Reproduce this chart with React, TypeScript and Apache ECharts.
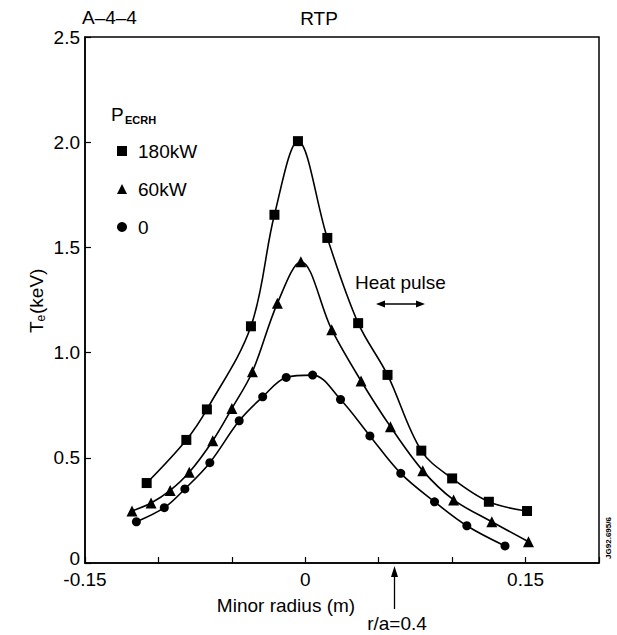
import React, { useEffect, useRef } from "react";
import * as echarts from "echarts";

// Minor radius (m) and Te (keV) for each ECRH power
const radius180 = [-0.108, -0.081, -0.067, -0.037, -0.021, -0.005, 0.015, 0.036, 0.056, 0.079, 0.1, 0.125, 0.151];
const te180 = [0.38, 0.585, 0.73, 1.125, 1.655, 2.005, 1.545, 1.14, 0.894, 0.534, 0.402, 0.291, 0.247];

const radius60 = [-0.118, -0.105, -0.092, -0.079, -0.063, -0.05, -0.036, -0.019, -0.003, 0.018, 0.038, 0.058, 0.08, 0.101, 0.127, 0.152];
const te60 = [0.247, 0.285, 0.345, 0.431, 0.581, 0.734, 0.909, 1.234, 1.432, 1.109, 0.865, 0.648, 0.439, 0.3, 0.196, 0.101];

const radius0 = [-0.115, -0.096, -0.082, -0.065, -0.045, -0.029, -0.013, 0.005, 0.024, 0.044, 0.065, 0.088, 0.11, 0.136];
const te0 = [0.196, 0.263, 0.352, 0.477, 0.676, 0.79, 0.882, 0.893, 0.777, 0.604, 0.426, 0.291, 0.177, 0.081];

const seriesNames = ["180kW", "60kW", "0"];
const seriesSymbols = ["rect", "triangle", "circle"];
const xLabelValues = [-0.15, 0, 0.15];
const xLabelTexts = ["-0.15", "0", "0.15"];
const yLabelValues = [0, 0.5, 1.0, 1.5, 2.0, 2.5];
const yLabelTexts = ["0", "0.5", "1.0", "1.5", "2.0", "2.5"];

const zip = (xs: number[], ys: number[]) => xs.map((x, i) => [x, ys[i]]);

const FONT = "'Liberation Sans', Arial, Helvetica, sans-serif";
const FS = 19;

export default function App() {
  const ref = useRef<HTMLDivElement>(null);
  useEffect(() => {
    if (!ref.current) return;
    const chart = echarts.init(ref.current, null, { renderer: "svg" });
    const datasets = [zip(radius180, te180), zip(radius60, te60), zip(radius0, te0)];
    const sizes = [10, 11, 9];
    const option: any = {
      animation: false,
      backgroundColor: "#fff",
      textStyle: { fontFamily: FONT, color: "#000" },
      grid: {
        left: 85,
        right: 18,
        top: 37,
        bottom: 72,
        show: true,
        borderColor: "#000",
        borderWidth: 1.5,
        backgroundColor: "transparent",
      },
      legend: {
        orient: "vertical",
        left: 117,
        top: 141,
        padding: 0,
        itemWidth: 10,
        itemHeight: 10,
        itemGap: 18,
        selectedMode: false,
        textStyle: { fontFamily: FONT, fontSize: FS, color: "#000", lineHeight: 20, padding: [0, 0, 0, 6] },
        data: seriesNames.map((n, i) => ({ name: n, icon: seriesSymbols[i], itemStyle: { color: "#000" } })),
      },
      xAxis: {
        type: "value",
        min: -0.15,
        max: 0.2,
        interval: 0.05,
        axisLine: { show: true, onZero: false, lineStyle: { color: "#000", width: 1.5 } },
        axisTick: { show: true, inside: true, length: 6, lineStyle: { color: "#000", width: 1.2 } },
        splitLine: { show: false },
        axisLabel: {
          show: true,
          margin: 9,
          fontFamily: FONT,
          fontSize: FS,
          lineHeight: 15,
          color: "#000",
          showMaxLabel: true,
          showMinLabel: true,
          formatter: (v: number) => {
            for (let i = 0; i < xLabelValues.length; i++) {
              if (Math.abs(v - xLabelValues[i]) < 1e-9) return xLabelTexts[i];
            }
            return "";
          },
        },
      },
      yAxis: {
        type: "value",
        min: 0,
        max: 2.5,
        interval: 0.5,
        axisLine: { show: true, onZero: false, lineStyle: { color: "#000", width: 1.5 } },
        axisTick: { show: true, inside: true, length: 6, lineStyle: { color: "#000", width: 1.2 } },
        splitLine: { show: false },
        axisLabel: {
          show: true,
          margin: 5,
          fontFamily: FONT,
          fontSize: FS,
          lineHeight: 14,
          color: "#000",
          rich: {
            z: { fontFamily: FONT, fontSize: FS, color: "#000", lineHeight: 14, padding: [0, 0, 9, 0] },
          },
          formatter: (v: number) => {
            for (let i = 0; i < yLabelValues.length; i++) {
              if (Math.abs(v - yLabelValues[i]) < 1e-9) {
                return i === 0 ? "{z|" + yLabelTexts[i] + "}" : yLabelTexts[i];
              }
            }
            return "";
          },
        },
      },
      series: seriesNames.map((n, i) => ({
        name: n,
        type: "line",
        data: datasets[i],
        smooth: 0.35,
        symbol: seriesSymbols[i],
        symbolSize: sizes[i],
        showAllSymbol: true,
        lineStyle: { color: "#000", width: 1.6 },
        itemStyle: { color: "#000", borderWidth: 0 },
        emphasis: { disabled: true },
      })),
      graphic: [
        { type: "text", left: 82, top: 8, style: { text: "A–4–4", fontFamily: FONT, fontSize: FS, fill: "#000" } },
        { type: "text", x: 319, y: 18, style: { text: "RTP", fontFamily: FONT, fontSize: FS, fill: "#000", textAlign: "center", textVerticalAlign: "middle" } },
        // P_ECRH
        { type: "text", x: 111, y: 114, style: { text: "P", fontFamily: FONT, fontSize: FS, fill: "#000", textAlign: "left", textVerticalAlign: "middle" } },
        { type: "text", x: 125, y: 120, style: { text: "ECRH", fontFamily: FONT, fontSize: 11, fontWeight: "bold", fill: "#000", textAlign: "left", textVerticalAlign: "middle" } },
        // Te (keV) rotated
        {
          type: "group",
          x: 36,
          y: 300,
          rotation: Math.PI / 2,
          children: [
            { type: "text", x: -33, y: 0, style: { text: "T", fontFamily: FONT, fontSize: FS, fill: "#000", textAlign: "left", textVerticalAlign: "middle" } },
            { type: "text", x: -21.5, y: 5, style: { text: "e", fontFamily: FONT, fontSize: 12, fill: "#000", textAlign: "left", textVerticalAlign: "middle" } },
            { type: "text", x: -14, y: 0, style: { text: "(keV)", fontFamily: FONT, fontSize: FS, fill: "#000", textAlign: "left", textVerticalAlign: "middle" } },
          ],
        },
        // Heat pulse
        { type: "text", x: 355, y: 282, style: { text: "Heat pulse", fontFamily: FONT, fontSize: FS, fill: "#000", textAlign: "left", textVerticalAlign: "middle" } },
        { type: "line", shape: { x1: 380, y1: 304, x2: 421, y2: 304 }, style: { stroke: "#000", lineWidth: 1.3 } },
        { type: "polygon", shape: { points: [[376, 304], [385, 300.5], [385, 307.5]] }, style: { fill: "#000" } },
        { type: "polygon", shape: { points: [[425, 304], [416, 300.5], [416, 307.5]] }, style: { fill: "#000" } },
        // Axis name
        { type: "text", x: 286, y: 605, style: { text: "Minor radius (m)", fontFamily: FONT, fontSize: FS, fill: "#000", textAlign: "center", textVerticalAlign: "middle" } },
        // r/a arrow
        { type: "line", shape: { x1: 394.5, y1: 574, x2: 394.5, y2: 609 }, style: { stroke: "#000", lineWidth: 1.3 } },
        { type: "polygon", shape: { points: [[394.5, 566], [391, 577], [398, 577]] }, style: { fill: "#000" } },
        { type: "text", x: 397, y: 623, style: { text: "r/a=0.4", fontFamily: FONT, fontSize: FS, fill: "#000", textAlign: "center", textVerticalAlign: "middle" } },
        // figure id
        { type: "text", x: 608, y: 538, rotation: Math.PI / 2, style: { text: "JG92.695/6", fontFamily: FONT, fontSize: 8, fontWeight: "bold", fill: "#000", textAlign: "center", textVerticalAlign: "middle" } },
      ],
    };
    chart.setOption(option);
    return () => chart.dispose();
  }, []);
  return <div ref={ref} style={{ position: "fixed", left: 0, top: 0, width: 617, height: 635 }} />;
}
